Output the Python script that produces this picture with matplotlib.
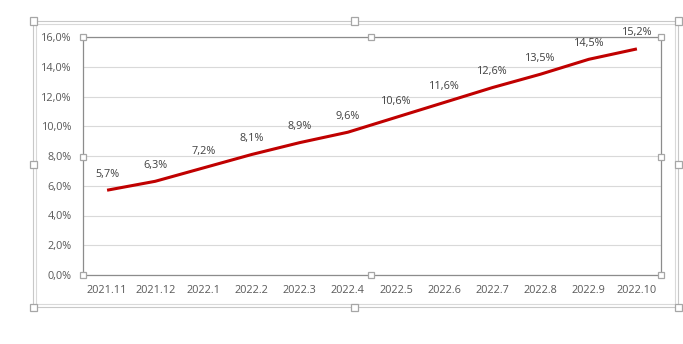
import matplotlib.pyplot as plt
from matplotlib.patches import Rectangle

months = ['2021.11', '2021.12', '2022.1', '2022.2', '2022.3', '2022.4',
          '2022.5', '2022.6', '2022.7', '2022.8', '2022.9', '2022.10']
rates = [5.7, 6.3, 7.2, 8.1, 8.9, 9.6, 10.6, 11.6, 12.6, 13.5, 14.5, 15.2]
yticks = [0, 2, 4, 6, 8, 10, 12, 14, 16]

W, H = 683, 344
plt.rcParams['font.family'] = ['Open Sans', 'DejaVu Sans']

fig = plt.figure(figsize=(W / 100, H / 100), dpi=100)
ax = fig.add_axes([83 / W, 1 - 275 / H, (661 - 83) / W, (275 - 37) / H])

x = list(range(len(months)))
ax.plot(x, rates, color='#C00000', lw=2.2, solid_capstyle='butt')
for xi, v in zip(x, rates):
    ax.annotate(f'{v:.1f}%'.replace('.', ','), (xi, v), xytext=(0, 7.5),
                textcoords='offset points', ha='center', va='bottom',
                fontsize=7.8, color='#404040')

ax.set_xlim(-0.5, len(months) - 0.5)
ax.set_ylim(0, 16)
ax.set_xticks(x)
ax.set_xticklabels(months)
ax.set_yticks(yticks)
ax.set_yticklabels([f'{t:.1f}%'.replace('.', ',') for t in yticks])
ax.tick_params(length=0, labelsize=7.8, colors='#595959', pad=7)
ax.tick_params(axis='y', pad=8)
ax.grid(axis='y', color='#D9D9D9', lw=0.8)
ax.set_axisbelow(True)
for s in ax.spines.values():
    s.set_color('#8C8C8C')
    s.set_linewidth(0.9)


def box(x0, y0, x1, y1, color='#C8C8C8'):
    fig.patches.append(Rectangle((x0 / W, 1 - y1 / H), (x1 - x0) / W, (y1 - y0) / H,
                                 transform=fig.transFigure, fill=False,
                                 edgecolor=color, lw=0.8))


def handle(cx, cy, s=7):
    fig.patches.append(Rectangle(((cx - s / 2) / W, 1 - (cy + s / 2) / H), s / W, s / H,
                                 transform=fig.transFigure, facecolor='white',
                                 edgecolor='#A6A6A6', lw=0.9, zorder=5))


box(33, 21, 678, 307)
box(36, 24, 675, 304, color='#D9D9D9')
for cx, cy in [(33, 21), (355, 21), (678, 21), (33, 164), (678, 164),
               (33, 307), (355, 307), (678, 307)]:
    handle(cx, cy)
for cx, cy in [(83, 37), (371, 37), (661, 37), (83, 157), (661, 157),
               (83, 275), (371, 275), (661, 275)]:
    handle(cx, cy, 6)

fig.savefig('out.png', dpi=100)
